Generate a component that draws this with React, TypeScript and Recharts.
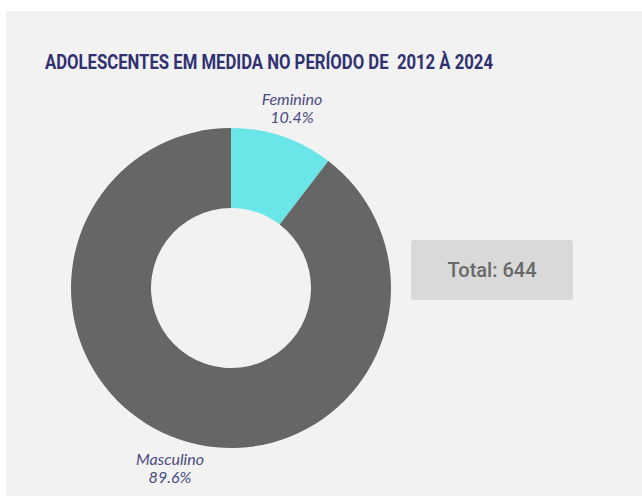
import { PieChart, Pie, Cell } from "recharts";

const categories = ["Feminino", "Masculino"];
const counts = [67, 577];
const colors = ["#6ae5e8", "#666666"];
const total = 644;

const data = categories.map((name, i) => ({ name, value: counts[i] }));

const RADIAN = Math.PI / 180;

const renderLabel = (props: any) => {
  const { cx, cy, midAngle, outerRadius, percent, name } = props;
  const r = outerRadius + 30;
  const x = cx + r * Math.cos(-midAngle * RADIAN);
  const y = cy + r * Math.sin(-midAngle * RADIAN);
  return (
    <text
      x={x}
      y={y}
      textAnchor="middle"
      fill="#4a4c80"
      fontFamily="Lato, 'Open Sans', sans-serif"
      fontStyle="italic"
      fontSize={16}
    >
      <tspan x={x} dy={-3}>{name}</tspan>
      <tspan x={x} dy={18}>{(percent * 100).toFixed(1)}%</tspan>
    </text>
  );
};

const App = () => {
  return (
    <div style={{ position: "absolute", left: 0, top: 0, width: 642, height: 496, background: "#ffffff", overflow: "hidden" }}>
      <div style={{ position: "absolute", left: 6, top: 11, width: 636, height: 485, background: "#f2f2f2" }} />
      <svg width={642} height={90} style={{ position: "absolute", left: 0, top: 0 }}>
        <text
          x={45}
          y={69}
          textLength={448}
          lengthAdjust="spacingAndGlyphs"
          fill="#2f3171"
          fontFamily="Roboto, sans-serif"
          fontWeight={700}
          fontSize={20}
          style={{ whiteSpace: "pre" }}
        >
          ADOLESCENTES EM MEDIDA NO PERÍODO DE  2012 À 2024
        </text>
      </svg>
      <div style={{ position: "absolute", left: 0, top: 0 }}>
        <PieChart width={642} height={496} margin={{ top: 0, right: 0, bottom: 0, left: 0 }}>
          <Pie
            data={data}
            dataKey="value"
            nameKey="name"
            cx={231}
            cy={288}
            innerRadius={80}
            outerRadius={160}
            startAngle={90}
            endAngle={-270}
            stroke="none"
            label={renderLabel}
            labelLine={false}
            isAnimationActive={false}
          >
            {data.map((d, i) => (
              <Cell key={d.name} fill={colors[i]} />
            ))}
          </Pie>
        </PieChart>
      </div>
      <div
        style={{
          position: "absolute",
          left: 411,
          top: 240,
          width: 162,
          height: 60,
          background: "#d9d9d9",
          borderRadius: 3,
          display: "flex",
          alignItems: "center",
          justifyContent: "center",
          fontFamily: "Roboto, sans-serif",
          fontWeight: 500,
          fontSize: 20,
          color: "#696969",
        }}
      >
        Total: {total}
      </div>
    </div>
  );
};

export default App;
